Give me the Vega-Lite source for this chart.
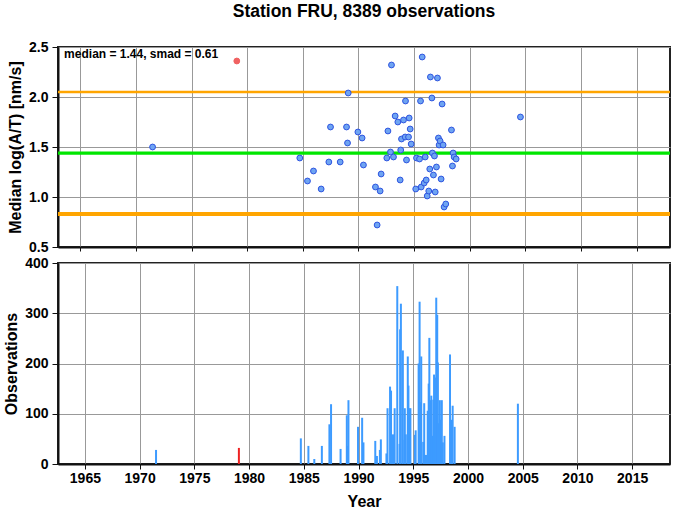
{
  "$schema": "https://vega.github.io/schema/vega-lite/v6.json",
  "padding": {"left": 2, "top": 2, "right": 4, "bottom": 0},
  "background": "white",
  "title": {"text": "Station FRU, 8389 observations", "font": "Liberation Sans", "fontSize": 17.5, "fontWeight": "bold", "color": "#000", "anchor": "middle", "frame": "group", "offset": 19},
  "config": {
    "font": "Liberation Sans",
    "view": {"stroke": "#222", "strokeWidth": 2},
    "axis": {
      "labelFont": "Liberation Sans", "labelFontWeight": "bold", "labelFontSize": 14, "labelColor": "#000",
      "titleFont": "Liberation Sans", "titleFontWeight": "bold", "titleFontSize": 16, "titleColor": "#000",
      "gridColor": "#999", "gridWidth": 1, "gridOpacity": 1,
      "domainColor": "#111", "domainWidth": 2, "tickColor": "#111", "tickWidth": 1, "tickSize": 6, "labelPadding": 4
    }
  },
  "resolve": {"scale": {"color": "independent"}},
  "datasets": {
    "stations": [
      {"year": 1971.5, "median": 1.50, "count": 28, "flag": "ok"},
      {"year": 1979.07, "median": 2.36, "count": 32, "flag": "bad"},
      {"year": 1984.73, "median": 1.39, "count": 51, "flag": "ok"},
      {"year": 1985.42, "median": 1.16, "count": 36, "flag": "ok"},
      {"year": 1985.96, "median": 1.26, "count": 10, "flag": "ok"},
      {"year": 1986.65, "median": 1.08, "count": 36, "flag": "ok"},
      {"year": 1987.34, "median": 1.35, "count": 79, "flag": "ok"},
      {"year": 1987.49, "median": 1.70, "count": 119, "flag": "ok"},
      {"year": 1988.36, "median": 1.35, "count": 30, "flag": "ok"},
      {"year": 1988.93, "median": 1.70, "count": 97, "flag": "ok"},
      {"year": 1989.02, "median": 1.54, "count": 36, "flag": "ok"},
      {"year": 1989.08, "median": 2.04, "count": 127, "flag": "ok"},
      {"year": 1989.95, "median": 1.65, "count": 74, "flag": "ok"},
      {"year": 1990.33, "median": 1.59, "count": 92, "flag": "ok"},
      {"year": 1990.45, "median": 1.32, "count": 43, "flag": "ok"},
      {"year": 1991.53, "median": 1.10, "count": 46, "flag": "ok"},
      {"year": 1991.68, "median": 0.72, "count": 16, "flag": "ok"},
      {"year": 1991.95, "median": 1.06, "count": 28, "flag": "ok"},
      {"year": 1992.04, "median": 1.23, "count": 49, "flag": "ok"},
      {"year": 1992.55, "median": 1.39, "count": 21, "flag": "ok"},
      {"year": 1992.65, "median": 1.66, "count": 111, "flag": "ok"},
      {"year": 1992.88, "median": 1.45, "count": 154, "flag": "ok"},
      {"year": 1992.97, "median": 2.32, "count": 146, "flag": "ok"},
      {"year": 1993.15, "median": 1.40, "count": 59, "flag": "ok"},
      {"year": 1993.30, "median": 1.81, "count": 111, "flag": "ok"},
      {"year": 1993.54, "median": 1.75, "count": 354, "flag": "ok"},
      {"year": 1993.75, "median": 1.17, "count": 40, "flag": "ok"},
      {"year": 1993.80, "median": 1.47, "count": 268, "flag": "ok"},
      {"year": 1993.87, "median": 1.58, "count": 319, "flag": "ok"},
      {"year": 1994.05, "median": 1.77, "count": 226, "flag": "ok"},
      {"year": 1994.20, "median": 1.60, "count": 48, "flag": "ok"},
      {"year": 1994.23, "median": 1.96, "count": 111, "flag": "ok"},
      {"year": 1994.32, "median": 1.37, "count": 59, "flag": "ok"},
      {"year": 1994.50, "median": 1.60, "count": 214, "flag": "ok"},
      {"year": 1994.56, "median": 1.79, "count": 156, "flag": "ok"},
      {"year": 1994.65, "median": 1.68, "count": 111, "flag": "ok"},
      {"year": 1994.74, "median": 1.53, "count": 111, "flag": "ok"},
      {"year": 1995.15, "median": 1.08, "count": 58, "flag": "ok"},
      {"year": 1995.22, "median": 1.39, "count": 67, "flag": "ok"},
      {"year": 1995.49, "median": 1.38, "count": 200, "flag": "ok"},
      {"year": 1995.58, "median": 1.96, "count": 323, "flag": "ok"},
      {"year": 1995.64, "median": 1.10, "count": 123, "flag": "ok"},
      {"year": 1995.73, "median": 2.40, "count": 214, "flag": "ok"},
      {"year": 1995.91, "median": 1.14, "count": 44, "flag": "ok"},
      {"year": 1996.00, "median": 1.40, "count": 121, "flag": "ok"},
      {"year": 1996.09, "median": 1.17, "count": 18, "flag": "ok"},
      {"year": 1996.18, "median": 1.01, "count": 18, "flag": "ok"},
      {"year": 1996.32, "median": 1.06, "count": 106, "flag": "ok"},
      {"year": 1996.41, "median": 1.28, "count": 160, "flag": "ok"},
      {"year": 1996.47, "median": 2.20, "count": 251, "flag": "ok"},
      {"year": 1996.60, "median": 1.99, "count": 127, "flag": "ok"},
      {"year": 1996.65, "median": 1.44, "count": 136, "flag": "ok"},
      {"year": 1996.74, "median": 1.22, "count": 56, "flag": "ok"},
      {"year": 1996.83, "median": 1.41, "count": 128, "flag": "ok"},
      {"year": 1996.90, "median": 1.05, "count": 178, "flag": "ok"},
      {"year": 1997.01, "median": 1.30, "count": 172, "flag": "ok"},
      {"year": 1997.10, "median": 2.19, "count": 331, "flag": "ok"},
      {"year": 1997.19, "median": 1.59, "count": 297, "flag": "ok"},
      {"year": 1997.25, "median": 1.52, "count": 202, "flag": "ok"},
      {"year": 1997.34, "median": 1.56, "count": 81, "flag": "ok"},
      {"year": 1997.43, "median": 1.18, "count": 127, "flag": "ok"},
      {"year": 1997.52, "median": 1.93, "count": 88, "flag": "ok"},
      {"year": 1997.61, "median": 1.52, "count": 127, "flag": "ok"},
      {"year": 1997.70, "median": 0.90, "count": 43, "flag": "ok"},
      {"year": 1997.85, "median": 0.93, "count": 56, "flag": "ok"},
      {"year": 1998.36, "median": 1.67, "count": 218, "flag": "ok"},
      {"year": 1998.45, "median": 1.31, "count": 56, "flag": "ok"},
      {"year": 1998.51, "median": 1.44, "count": 88, "flag": "ok"},
      {"year": 1998.60, "median": 1.40, "count": 116, "flag": "ok"},
      {"year": 1998.78, "median": 1.38, "count": 74, "flag": "ok"},
      {"year": 2004.56, "median": 1.80, "count": 120, "flag": "ok"}
    ],
    "levels": [
      {"level": 2.05, "kind": "upper"},
      {"level": 1.44, "kind": "median"},
      {"level": 0.83, "kind": "lower"}
    ]
  },
  "spacing": 0,
  "vconcat": [
    {
      "width": 612,
      "height": 200,
      "resolve": {"scale": {"color": "independent"}},
      "layer": [
        {
          "data": {"name": "levels"},
          "mark": {"type": "rule"},
          "encoding": {
            "y": {"field": "level", "type": "quantitative", "scale": {"domain": [0.5, 2.5], "nice": false, "zero": false}},
            "color": {"field": "kind", "type": "nominal", "scale": {"domain": ["upper", "median", "lower"], "range": ["#ffa500", "#00e600", "#ffa500"]}, "legend": null},
            "strokeWidth": {"field": "kind", "type": "nominal", "scale": {"domain": ["upper", "median", "lower"], "range": [2.5, 4, 2.5]}, "legend": null}
          }
        },
        {
          "data": {"name": "stations"},
          "mark": {"type": "point", "filled": true, "size": 34, "strokeWidth": 1, "opacity": 1},
          "encoding": {
            "x": {"field": "year", "type": "quantitative", "scale": {"domain": [1963, 2018], "nice": false, "zero": false},
                  "axis": {"orient": "bottom", "labels": false, "title": null, "values": [1965, 1970, 1975, 1980, 1985, 1990, 1995, 2000, 2005, 2010, 2015], "tickSize": 4}},
            "y": {"field": "median", "type": "quantitative", "scale": {"domain": [0.5, 2.5], "nice": false, "zero": false},
                  "axis": {"title": "Median log(A/T) [nm/s]", "values": [0.5, 1.0, 1.5, 2.0, 2.5], "format": ".1f", "titlePadding": 5}},
            "fill": {"field": "flag", "type": "nominal", "scale": {"domain": ["ok", "bad"], "range": ["#6ea4f2", "#f06262"]}, "legend": null},
            "stroke": {"field": "flag", "type": "nominal", "scale": {"domain": ["ok", "bad"], "range": ["#2f55e0", "#f06262"]}, "legend": null}
          }
        },
        {
          "data": {"values": [{"label": "median = 1.44, smad = 0.61"}]},
          "mark": {"type": "text", "align": "left", "baseline": "middle", "font": "Liberation Sans", "fontWeight": "bold", "fontSize": 12, "color": "#000"},
          "encoding": {
            "x": {"datum": 1963.55, "type": "quantitative"},
            "y": {"datum": 2.43, "type": "quantitative"},
            "text": {"field": "label"}
          }
        }
      ]
    },
    {
      "width": 612,
      "height": 201,
      "data": {"name": "stations"},
      "mark": {"type": "bar", "width": 2},
      "encoding": {
        "x": {"field": "year", "type": "quantitative", "scale": {"domain": [1963, 2018], "nice": false, "zero": false},
              "axis": {"title": "Year", "values": [1965, 1970, 1975, 1980, 1985, 1990, 1995, 2000, 2005, 2010, 2015], "format": "d", "titlePadding": 8, "tickSize": 5, "labelPadding": 2}},
        "y": {"field": "count", "type": "quantitative", "scale": {"domain": [0, 400], "nice": false},
              "axis": {"title": "Observations", "values": [0, 100, 200, 300, 400], "titlePadding": 5}},
        "color": {"field": "flag", "type": "nominal", "scale": {"domain": ["ok", "bad"], "range": ["#3d9bff", "#ee2222"]}, "legend": null}
      }
    }
  ]
}
